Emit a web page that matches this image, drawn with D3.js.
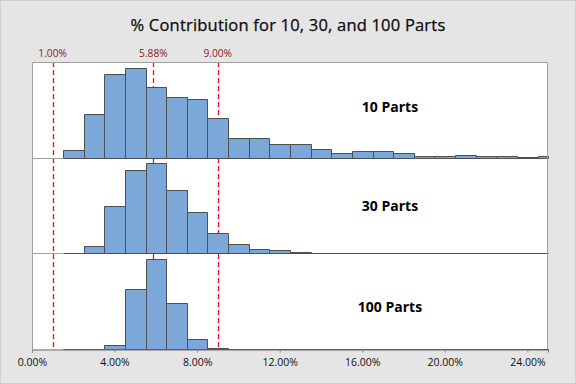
<!DOCTYPE html>
<html>
<head>
<meta charset="utf-8">
<script src="https://cdn.jsdelivr.net/npm/d3@7"></script>
<style>
  body { margin: 0; background: #e5e5e5; }
  svg { display: block; font-family: "Open Sans", "Noto Sans", sans-serif; }
</style>
</head>
<body>
<div id="chart"></div>
<script>
const svgWidth = 576;
const svgHeight = 384;

// plot box
const margin = { top: 62, right: 28, bottom: 35, left: 32 };
const width = svgWidth - margin.left - margin.right;
const height = svgHeight - margin.top - margin.bottom;

// data: histogram bin midpoints (%) and counts per panel
const binMids = d3.range(2, 26);
const panelNames = ["10 Parts", "30 Parts", "100 Parts"];
const counts10 = [12, 66, 125, 135, 106, 91, 88, 60, 30, 30, 20, 20, 13, 7, 10, 10, 7, 2, 2, 4, 2, 2, 1, 2];
const counts30 = [1, 19, 127, 224, 243, 170, 113, 54, 24, 12, 9, 3, 0, 0, 0, 0, 0, 0, 0, 0, 0, 0, 0, 0];
const counts100 = [0, 0, 18, 285, 428, 218, 46, 3, 0, 0, 0, 0, 0, 0, 0, 0, 0, 0, 0, 0, 0, 0, 0, 0];
const refLines = [1.00, 5.88, 9.00];
const xTicks = [0, 4, 8, 12, 16, 20, 24];

const panelCounts = [counts10, counts30, counts100];
// label offset from each panel top
const labelOffsets = [50, 53, 59];

const svg = d3.select("#chart")
  .append("svg")
  .attr("width", svgWidth)
  .attr("height", svgHeight);

// frame
svg.append("rect")
  .attr("x", 0.5).attr("y", 0.5)
  .attr("width", svgWidth - 1).attr("height", svgHeight - 1)
  .attr("fill", "#e5e5e5")
  .attr("stroke", "#cfcfcf");

svg.append("text")
  .attr("x", 288)
  .attr("y", 31)
  .attr("text-anchor", "middle")
  .attr("font-size", "16.5px")
  .attr("letter-spacing", "0.2px")
  .attr("fill", "#0a0a0a")
  .attr("stroke", "#0a0a0a")
  .attr("stroke-width", 0.25)
  .text("% Contribution for 10, 30, and 100 Parts");

const chartGroup = svg.append("g")
  .attr("transform", `translate(${margin.left}, ${margin.top})`);

chartGroup.append("rect")
  .attr("width", width)
  .attr("height", height)
  .attr("fill", "white");

const xScale = d3.scaleLinear()
  .domain([0, 25])
  .range([0, width]);

const panelScale = d3.scaleBand()
  .domain(panelNames)
  .range([0, height])
  .paddingInner(0);

const panelH = panelScale.bandwidth();

// reference lines (behind bars)
chartGroup.selectAll(".refLine")
  .data(refLines)
  .enter()
  .append("line")
  .attr("class", "refLine")
  .attr("x1", d => Math.round(xScale(d)) + 0.5)
  .attr("x2", d => Math.round(xScale(d)) + 0.5)
  .attr("y1", 0)
  .attr("y2", height)
  .attr("stroke", "#e8141c")
  .attr("stroke-width", 1.3)
  .attr("stroke-dasharray", "5,3");

chartGroup.selectAll(".refLabel")
  .data(refLines)
  .enter()
  .append("text")
  .attr("class", "refLabel")
  .attr("x", d => xScale(d))
  .attr("y", -5)
  .attr("text-anchor", "middle")
  .attr("font-size", "10.2px")
  .attr("fill", "#8e1a20")
  .text(d => d3.format(".2f")(d) + "%");

panelNames.forEach(function(name, i) {
  const top = panelScale(name);
  const counts = panelCounts[i];
  const yScale = d3.scaleLinear()
    .domain([0, d3.max(counts) / 0.94])
    .range([top + panelH, top]);

  const bins = binMids.map((m, j) => ({ x0: m - 0.5, x1: Math.min(m + 0.5, 25), n: counts[j] }));

  chartGroup.selectAll(".bar" + i)
    .data(bins)
    .enter()
    .append("path")
    .attr("class", "bar" + i)
    .attr("d", d => {
      const xa = Math.round(xScale(d.x0)) + 0.5;
      const xb = Math.round(xScale(d.x1)) + 0.5;
      const y0 = Math.round(yScale(0)) + 0.5;
      const y1 = Math.round(yScale(d.n)) + 0.5;
      return `M${xa},${y0}V${y1}H${xb}V${y0}Z`;
    })
    .attr("fill", "#7ba7d9")
    .attr("stroke", "#4f4f4f")
    .attr("stroke-width", 1);

  // panel separator
  if (i < panelNames.length - 1) {
    chartGroup.append("line")
      .attr("x1", 0)
      .attr("x2", xScale(1.5))
      .attr("y1", Math.round(top + panelH) + 0.5)
      .attr("y2", Math.round(top + panelH) + 0.5)
      .attr("stroke", "#a0a0a0");
  }

  chartGroup.append("text")
    .attr("x", 358)
    .attr("y", top + labelOffsets[i])
    .attr("text-anchor", "middle")
    .attr("font-size", "14px")
    .attr("font-weight", "bold")
    .attr("fill", "#000")
    .text(name);
});

// plot border
chartGroup.append("path")
  .attr("d", `M0.5,${height}V0.5H${width - 0.5}V${height}`)
  .attr("fill", "none")
  .attr("stroke", "#a0a0a0");

// x axis
const bottomAxis = d3.axisBottom(xScale)
  .tickValues(xTicks)
  .tickSize(3)
  .tickFormat(d => d3.format(".2f")(d) + "%");

const xAxis = chartGroup.append("g")
  .attr("transform", `translate(0, ${Math.round(height) + 0.5})`)
  .call(bottomAxis);

xAxis.select(".domain").attr("stroke", "#6e6e6e");
xAxis.selectAll(".tick line").attr("stroke", "#8a8a8a");
xAxis.selectAll(".tick text")
  .attr("font-size", "10.5px")
  .attr("font-family", "\"Open Sans\", sans-serif")
  .attr("fill", "#111")
  .attr("dy", "1em");
</script>
</body>
</html>
